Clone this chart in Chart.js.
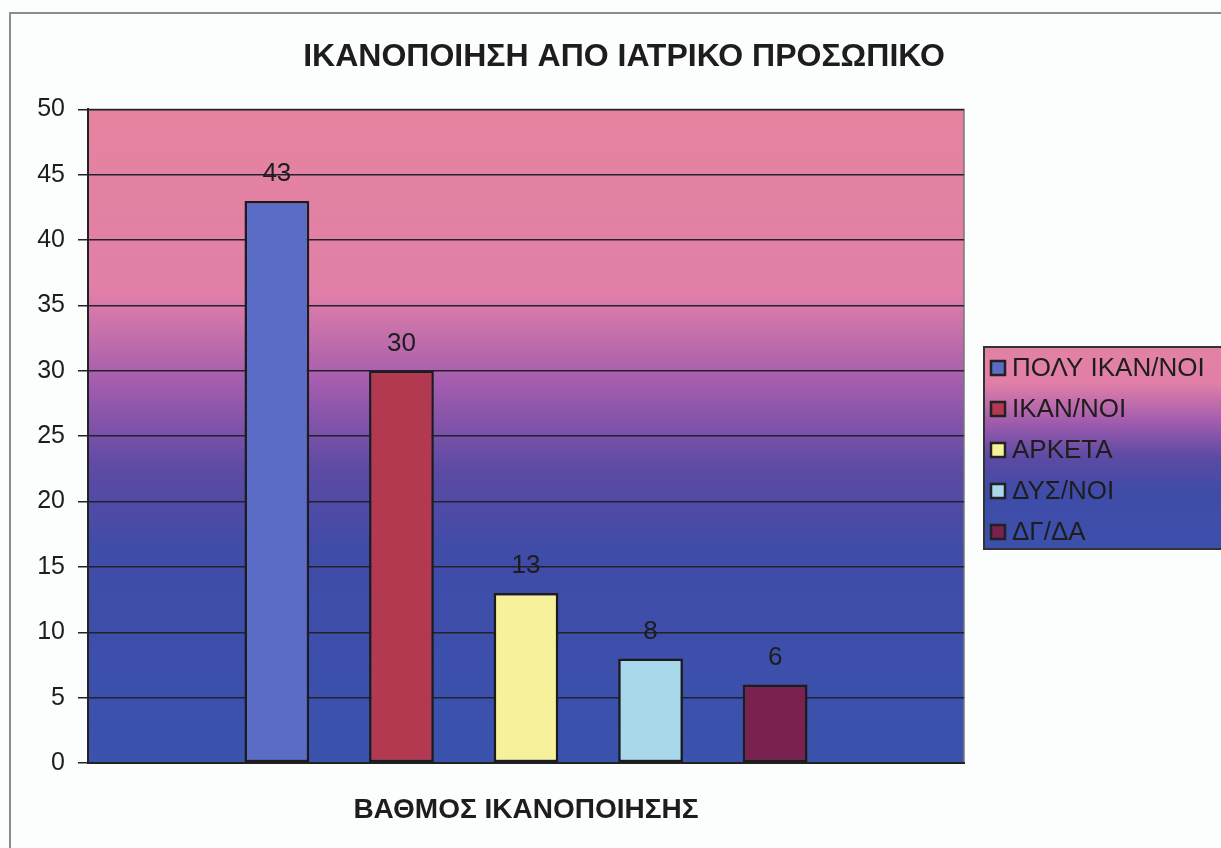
<!DOCTYPE html>
<html>
<head>
<meta charset="utf-8">
<script src="https://cdn.jsdelivr.net/npm/chart.js@4.4.0/dist/chart.umd.min.js"></script>
<style>
  html, body { margin: 0; padding: 0; background: #fcfdfd; overflow: hidden; }
  #wrap { width: 1248px; height: 848px; }
</style>
</head>
<body>
<div id="wrap"><canvas id="satisfaction" width="1248" height="848"></canvas></div>
<script>
// Satisfaction with medical staff (counts per answer)
const seriesNames = ["ΠΟΛΥ ΙΚΑΝ/ΝΟΙ", "ΙΚΑΝ/ΝΟΙ", "ΑΡΚΕΤΑ", "ΔΥΣ/ΝΟΙ", "ΔΓ/ΔΑ"];
const seriesValues = [43, 30, 13, 8, 6];
const seriesColors = ["#5a6cc6", "#b2394f", "#f6f19a", "#a9d8ea", "#7a2150"];
const yTicks = [0, 5, 10, 15, 20, 25, 30, 35, 40, 45, 50];

const FONT = "'Liberation Sans', Arial, sans-serif";
const INK = "#1d1d1d";

function pinkToBlue(ctx, top, bottom) {
  const g = ctx.createLinearGradient(0, top, 0, bottom);
  g.addColorStop(0, "#e5839f");
  g.addColorStop(0.28, "#e17fa8");
  g.addColorStop(0.42, "#a25cae");
  g.addColorStop(0.55, "#5d4aa4");
  g.addColorStop(0.68, "#3f4ca8");
  g.addColorStop(1, "#3a53ad");
  return g;
}

// page frame + plot background
const backdrop = {
  id: "backdrop",
  beforeDraw(chart) {
    const { ctx, chartArea: a } = chart;
    ctx.save();
    ctx.strokeStyle = "#8c8c8c";
    ctx.lineWidth = 2;
    ctx.beginPath();
    ctx.moveTo(10, chart.height);
    ctx.lineTo(10, 13);
    ctx.lineTo(chart.width, 13);
    ctx.stroke();

    ctx.fillStyle = pinkToBlue(ctx, a.top, a.bottom);
    ctx.fillRect(a.left, a.top, a.right - a.left, a.bottom - a.top);
    ctx.strokeStyle = "#777";
    ctx.lineWidth = 1.5;
    ctx.strokeRect(a.left, a.top, a.right - a.left, a.bottom - a.top);
    ctx.restore();
  }
};

// numbers above the bars
const valueLabels = {
  id: "valueLabels",
  afterDatasetsDraw(chart) {
    const { ctx } = chart;
    ctx.save();
    ctx.font = "26px " + FONT;
    ctx.fillStyle = INK;
    ctx.textAlign = "center";
    ctx.textBaseline = "middle";
    chart.data.datasets.forEach((ds, i) => {
      const bar = chart.getDatasetMeta(i).data[0];
      ctx.fillText(String(ds.data[0]), bar.x, bar.y - 27);
    });
    ctx.restore();
  }
};

// legend box on the right
const sideLegend = {
  id: "sideLegend",
  afterDraw(chart) {
    const { ctx } = chart;
    const x = 984, y = 347, w = 270, h = 202;
    ctx.save();
    ctx.fillStyle = pinkToBlue(ctx, y - 40, y + h + 30);
    ctx.fillRect(x, y, w, h);
    ctx.strokeStyle = "#333";
    ctx.lineWidth = 2;
    ctx.strokeRect(x, y, w, h);

    ctx.font = "26px " + FONT;
    ctx.textBaseline = "middle";
    chart.data.datasets.forEach((ds, i) => {
      const cy = y + 21 + i * 41;
      ctx.fillStyle = ds.backgroundColor;
      ctx.fillRect(991, cy - 7, 14, 14);
      ctx.strokeStyle = "#222";
      ctx.lineWidth = 2.5;
      ctx.strokeRect(991, cy - 7, 14, 14);
      ctx.fillStyle = INK;
      ctx.fillText(ds.label, 1012, cy + 1);
    });
    ctx.restore();
  }
};

new Chart(document.getElementById("satisfaction"), {
  type: "bar",
  data: {
    labels: [""],
    datasets: seriesNames.map((name, i) => ({
      label: name,
      data: [seriesValues[i]],
      backgroundColor: seriesColors[i],
      borderColor: "#1c1c1c",
      borderWidth: 2.5,
      borderSkipped: false,
      categoryPercentage: 0.711,
      barPercentage: 0.52
    }))
  },
  options: {
    responsive: false,
    animation: false,
    devicePixelRatio: 1,
    layout: { padding: 0 },
    plugins: {
      legend: { display: false },
      tooltip: { enabled: false },
      title: {
        display: true,
        text: "ΙΚΑΝΟΠΟΙΗΣΗ ΑΠΟ ΙΑΤΡΙΚΟ ΠΡΟΣΩΠΙΚΟ",
        color: INK,
        font: { family: FONT, size: 32, weight: "bold" },
        padding: { top: 38, bottom: 33 }
      }
    },
    scales: {
      x: {
        grid: { display: false, drawTicks: false },
        border: { display: true, color: "#222", width: 2 },
        ticks: { display: false },
        title: {
          display: true,
          text: "ΒΑΘΜΟΣ ΙΚΑΝΟΠΟΙΗΣΗΣ",
          color: INK,
          font: { family: FONT, size: 28, weight: "bold" },
          padding: { top: 0, bottom: 21 }
        },
        afterFit(scale) { scale.height = 85; }
      },
      y: {
        min: 0,
        max: 50,
        afterBuildTicks(scale) { scale.ticks = yTicks.map(v => ({ value: v })); },
        grid: { color: "#24202c", lineWidth: 1.5, tickLength: 10 },
        border: { display: true, color: "#222", width: 2 },
        ticks: {
          color: INK,
          padding: 13,
          font: { family: FONT, size: 25 }
        },
        afterFit(scale) { scale.width = 88; }
      },
      // empty right-hand strip that holds the legend box
      side: {
        type: "linear",
        position: "right",
        grid: { display: false },
        border: { display: false },
        ticks: { display: false },
        afterFit(scale) { scale.width = 284; }
      }
    }
  },
  plugins: [backdrop, valueLabels, sideLegend]
});
</script>
</body>
</html>
